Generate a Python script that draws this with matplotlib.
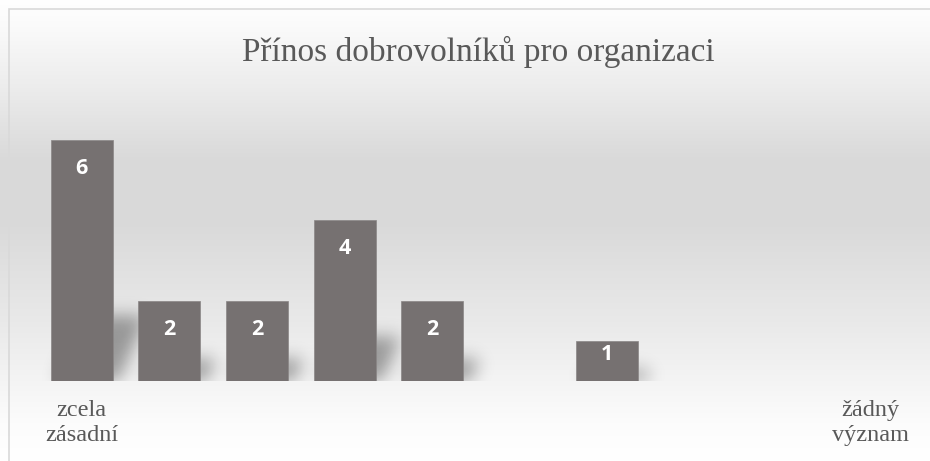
import numpy as np
import matplotlib
matplotlib.use("Agg")
import matplotlib.pyplot as plt
from matplotlib.colors import LinearSegmentedColormap

# data
categories = ["zcela\nzásadní", "", "", "", "", "", "", "", "", "žádný\nvýznam"]
counts = [6, 2, 2, 4, 2, 0, 1, 0, 0, 0]
title = "Přínos dobrovolníků pro organizaci"

BAR_COLOR = "#767171"
TEXT_COLOR = "#595959"
DPI = 100
FIG_W, FIG_H = 930, 461

fig = plt.figure(figsize=(FIG_W / DPI, FIG_H / DPI), dpi=DPI)

# background gradient (chart area fill)
bg = fig.add_axes([0, 0, 1, 1], zorder=-10)
bg_cmap = LinearSegmentedColormap.from_list(
    "bg",
    [(0.0, "#ffffff"), (0.08, "#fcfcfc"), (0.30, "#e9e9e9"), (0.52, "#d9d9d9"),
     (0.66, "#dadada"), (0.80, "#ebebeb"), (0.93, "#f9f9f9"), (1.0, "#ffffff")],
)
bg.imshow(np.linspace(0, 1, 256).reshape(-1, 1), cmap=bg_cmap, aspect="auto",
          extent=[-10, FIG_W + 10, 0, FIG_H], origin="upper")
bg.set_xlim(0, FIG_W)
bg.set_ylim(FIG_H, 0)
bg.axis("off")
# chart frame: only the left and top edges fall inside the picture
bg.plot([8.5, 8.5, FIG_W + 10], [FIG_H + 10, 9.5, 9.5], color="#d9d9d9", lw=1.2,
        solid_joinstyle="miter")

# plot area
x_lo, x_hi = -0.5, len(counts) - 0.5
y_lo, y_hi = 0, 7
ax_w_px, ax_h_px = 876, 281.4
ax = fig.add_axes([38 / FIG_W, 80 / FIG_H, ax_w_px / FIG_W, ax_h_px / FIG_H])
ax.patch.set_alpha(0)

x = np.arange(len(counts))
bar_w = 0.71
ax.bar(x, counts, width=bar_w, color=BAR_COLOR, zorder=3,
       edgecolor="#8a8686", linewidth=0.5)

# soft perspective shadows behind the bars
px_x = ax_w_px / (x_hi - x_lo)
px_y = ax_h_px / (y_hi - y_lo)
sh_lo, sh_hi = -0.7, 3.0
W = int(ax_w_px)
H = int((sh_hi - sh_lo) * px_y)
xp = np.arange(W)[None, :]
yp = (np.arange(H)[:, None] + 0.5) + sh_lo * px_y
mask = np.zeros((H, W))
for xi, v in zip(x, counts):
    if v == 0:
        continue
    sh = 0.27 * v * px_y
    shift = 6 + 0.42 * yp
    x0 = (xi - bar_w / 2 - x_lo) * px_x + shift
    x1 = (xi + bar_w / 2 - x_lo) * px_x + shift
    inside = (yp >= 0) & (yp <= sh) & (xp >= x0) & (xp <= x1)
    mask[inside] = 1.0


def blur(a, sigma):
    r = int(3 * sigma)
    k = np.exp(-0.5 * (np.arange(-r, r + 1) / sigma) ** 2)
    k /= k.sum()
    a = np.apply_along_axis(lambda m: np.convolve(m, k, mode="same"), 0, a)
    a = np.apply_along_axis(lambda m: np.convolve(m, k, mode="same"), 1, a)
    return a


mask = blur(mask, 8.5)
rgba = np.zeros((H, W, 4))
rgba[..., 3] = mask * 0.36
ax.imshow(rgba, extent=[x_lo, x_hi, sh_lo, sh_hi], origin="lower",
          aspect="auto", zorder=1, interpolation="bilinear")
ax.set_xlim(x_lo, x_hi)
ax.set_ylim(y_lo, y_hi)

# value labels inside bar ends
for xi, v in zip(x, counts):
    if v == 0:
        continue
    h_px = v * px_y
    off = min(28.5, h_px / 2 - 6) * 72 / DPI
    ax.annotate(str(v), (xi, v), xytext=(0, -off), textcoords="offset points",
                ha="center", va="center", color="white", fontsize=15.5,
                fontweight="bold", family=["Open Sans", "DejaVu Sans"], zorder=4)

ax.set_xticks(x)
ax.set_xticklabels(categories, fontsize=17.5, color=TEXT_COLOR,
                   family=["Liberation Serif", "DejaVu Serif"], linespacing=1.22)
ax.tick_params(axis="x", length=0, pad=14)
ax.set_yticks([])
for s in ax.spines.values():
    s.set_visible(False)

fig.text(478 / FIG_W, 1 - 52 / FIG_H, title, ha="center", va="center",
         fontsize=24, color=TEXT_COLOR, family=["Liberation Serif", "DejaVu Serif"])

fig.savefig("out.png", dpi=DPI)
